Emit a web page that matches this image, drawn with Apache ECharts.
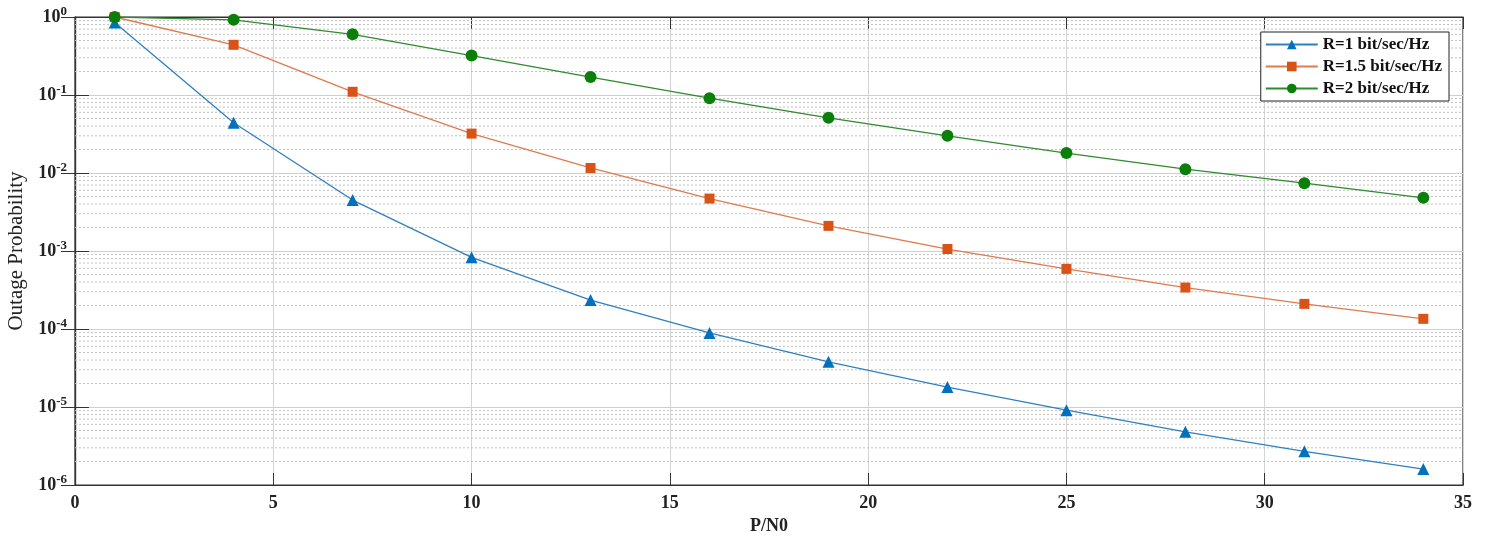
<!DOCTYPE html>
<html>
<head>
<meta charset="utf-8">
<script src="https://cdn.jsdelivr.net/npm/echarts@6/dist/echarts.min.js"></script>
<style>
  html, body { margin: 0; padding: 0; background: #fff; }
  #main { width: 1491px; height: 542px; }
</style>
</head>
<body>
<div id="main"></div>
<script>
// P/N0 values where the curves were sampled
var snr = [1, 4, 7, 10, 13, 16, 19, 22, 25, 28, 31, 34];

// outage probability
var outR1 = [0.85, 0.044, 0.0045, 8.3e-4, 2.35e-4, 8.9e-5, 3.8e-5, 1.8e-5, 9.1e-6, 4.8e-6, 2.7e-6, 1.6e-6];
var outR15 = [1.0, 0.44, 0.11, 0.032, 0.0116, 0.0047, 0.0021, 0.00106, 5.9e-4, 3.4e-4, 2.1e-4, 1.35e-4];
var outR2 = [1.0, 0.92, 0.6, 0.32, 0.17, 0.091, 0.051, 0.03, 0.018, 0.0112, 0.0074, 0.0048];

var seriesNames = ['R=1 bit/sec/Hz', 'R=1.5 bit/sec/Hz', 'R=2 bit/sec/Hz'];

function pairs(xs, ys) {
    var out = [];
    for (var i = 0; i < xs.length; i++) {
        out.push([xs[i], ys[i]]);
    }
    return out;
}

// dotted minor grid at 2..9 of every decade (like matlab's YMinorGrid),
// drawn as plain line series across the whole x range
function minorGridSeries() {
    var list = [];
    for (var e = -6; e < 0; e++) {
        for (var k = 2; k <= 9; k++) {
            var v = k * Math.pow(10, e);
            list.push({
                type: 'line',
                data: [[0, v], [35, v]],
                symbol: 'none',
                silent: true,
                z: 1,
                lineStyle: { color: '#c2c2c2', type: [2, 2], width: 1 },
                emphasis: { disabled: true },
                tooltip: { show: false }
            });
        }
    }
    return list;
}

var serif = '"Liberation Serif", "DejaVu Serif", serif';

var myChart = echarts.init(document.getElementById('main'));

var mainSeries = [{
    name: seriesNames[0],
    type: 'line',
    data: pairs(snr, outR1),
    symbol: 'triangle',
    symbolSize: 12,
    z: 5,
    lineStyle: { color: '#2f80c0', width: 1.3 },
    itemStyle: { color: '#0072BD' }
}, {
    name: seriesNames[1],
    type: 'line',
    data: pairs(snr, outR15),
    symbol: 'rect',
    symbolSize: 10,
    z: 5,
    lineStyle: { color: '#e07a4c', width: 1.3 },
    itemStyle: { color: '#D95319' }
}, {
    name: seriesNames[2],
    type: 'line',
    data: pairs(snr, outR2),
    symbol: 'circle',
    symbolSize: 12,
    z: 5,
    lineStyle: { color: '#2e8b2e', width: 1.3 },
    itemStyle: { color: '#0a800a' }
}];

var option = {
    animation: false,
    backgroundColor: '#fff',
    textStyle: { fontFamily: serif },
    grid: {
        left: 75, right: 28, top: 17, bottom: 57,
        outerBoundsMode: 'none',
        containLabel: false,
        show: true, borderColor: '#333', borderWidth: 1.2
    },
    legend: {
        orient: 'vertical',
        right: 42,
        top: 32,
        data: seriesNames,
        backgroundColor: '#fff',
        borderColor: '#222',
        borderWidth: 1,
        padding: [4, 7, 4, 4],
        itemGap: 5,
        itemWidth: 52,
        itemHeight: 12,
        textStyle: { fontFamily: serif, fontSize: 17, fontWeight: 'bold', color: '#111' }
    },
    xAxis: [{
        type: 'value',
        min: 0, max: 35, interval: 5,
        name: 'P/N0',
        nameLocation: 'middle',
        nameGap: 31,
        nameTextStyle: { fontFamily: serif, fontSize: 18, fontWeight: 'bold', color: '#222' },
        axisLine: { show: true, lineStyle: { color: '#333', width: 1.2 } },
        axisTick: { show: true, inside: true, length: 12, lineStyle: { color: '#333' } },
        axisLabel: { fontFamily: serif, fontSize: 18, fontWeight: 'bold', color: '#222', margin: 9 },
        splitLine: { show: true, lineStyle: { color: '#d4d4d4', width: 1 } }
    }, {
        type: 'value',
        position: 'top',
        min: 0, max: 35, interval: 5,
        axisLine: { show: true, lineStyle: { color: '#333', width: 1.2 } },
        axisTick: { show: true, inside: true, length: 12, lineStyle: { color: '#333' } },
        axisLabel: { show: false },
        splitLine: { show: false }
    }],
    yAxis: [{
        type: 'log',
        logBase: 10,
        min: 1e-6, max: 1,
        name: 'Outage Probability',
        nameLocation: 'middle',
        nameGap: 47,
        nameTextStyle: { fontFamily: serif, fontSize: 21, color: '#222' },
        axisLine: { show: true, lineStyle: { color: '#333', width: 1.2 } },
        axisTick: { show: true, inside: true, length: 14, lineStyle: { color: '#333' } },
        axisLabel: {
            margin: 8,
            formatter: function (v) {
                var e = Math.round(Math.log10(v));
                return '{b|10}{s|' + e + '}';
            },
            rich: {
                b: { fontFamily: serif, fontSize: 18, fontWeight: 'bold', color: '#222' },
                s: { fontFamily: serif, fontSize: 13, fontWeight: 'bold', color: '#222', verticalAlign: 'top', padding: [0, 0, 10, 0] }
            }
        },
        splitLine: { show: true, lineStyle: { color: '#cfcfcf', width: 1 } }
    }, {
        type: 'log',
        logBase: 10,
        position: 'right',
        min: 1e-6, max: 1,
        axisLine: { show: true, lineStyle: { color: '#333', width: 1.2 } },
        axisTick: { show: true, inside: true, length: 14, lineStyle: { color: '#333' } },
        axisLabel: { show: false },
        splitLine: { show: false }
    }],
    series: minorGridSeries().concat(mainSeries)
};

myChart.setOption(option);
</script>
</body>
</html>
